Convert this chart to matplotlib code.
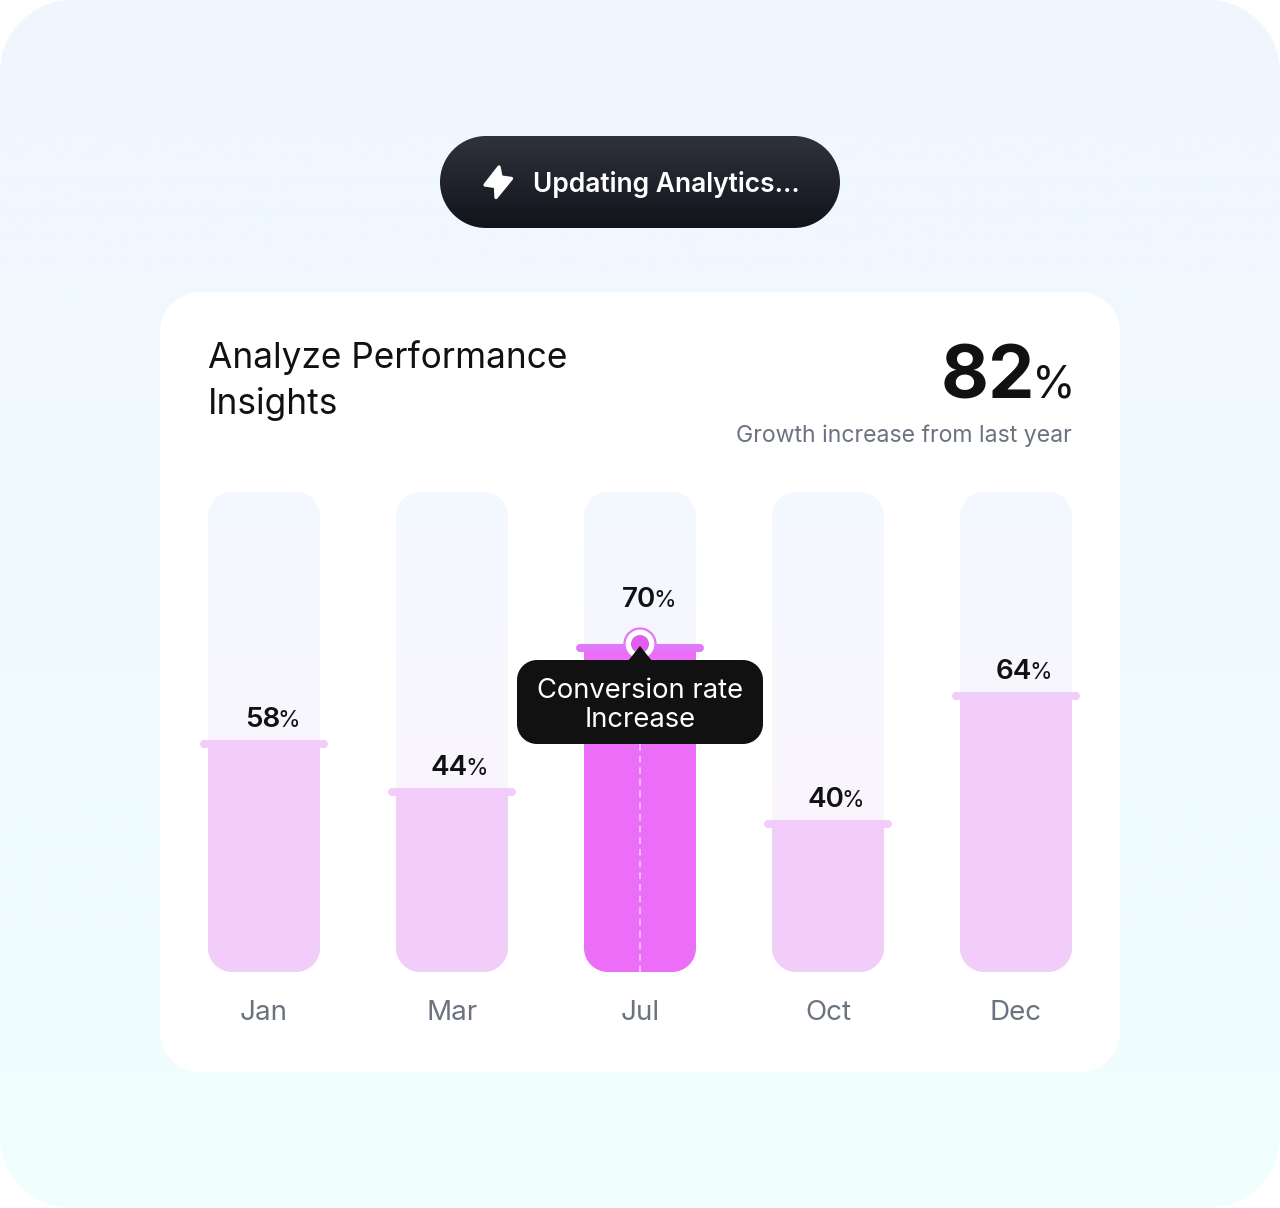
import numpy as np
import matplotlib
matplotlib.use('Agg')
import matplotlib.pyplot as plt
from matplotlib.patches import PathPatch, Polygon, Circle
from matplotlib.path import Path

plt.rcParams['font.family'] = ['Inter', 'DejaVu Sans']

# dados do grafico
months = ['Jan', 'Mar', 'Jul', 'Oct', 'Dec']
labels = [58, 44, 70, 40, 64]
# altura da barra em % do trilho (nao bate com o rotulo no original)
fill_pct = [47.5, 37.5, 67.5, 30.8, 57.5]
highlight = 'Jul'

W, H = 1280, 1208
fig = plt.figure(figsize=(W / 100, H / 100), dpi=100)
fig.patch.set_alpha(0)


def px_axes(zorder):
    a = fig.add_axes([0, 0, 1, 1], zorder=zorder)
    a.set_xlim(0, W)
    a.set_ylim(H, 0)
    a.axis('off')
    a.patch.set_alpha(0)
    return a


def rrect(x0, y0, x1, y1, r, **kw):
    # cantos circulares de verdade (o FancyBboxPatch fica quadrado demais)
    k = r * 0.4477
    verts = [(x0 + r, y0), (x1 - r, y0),
             (x1 - k, y0), (x1, y0 + k), (x1, y0 + r),
             (x1, y1 - r),
             (x1, y1 - k), (x1 - k, y1), (x1 - r, y1),
             (x0 + r, y1),
             (x0 + k, y1), (x0, y1 - k), (x0, y1 - r),
             (x0, y0 + r),
             (x0, y0 + k), (x0 + k, y0), (x0 + r, y0),
             (x0 + r, y0)]
    codes = [Path.MOVETO, Path.LINETO,
             Path.CURVE4, Path.CURVE4, Path.CURVE4,
             Path.LINETO,
             Path.CURVE4, Path.CURVE4, Path.CURVE4,
             Path.LINETO,
             Path.CURVE4, Path.CURVE4, Path.CURVE4,
             Path.LINETO,
             Path.CURVE4, Path.CURVE4, Path.CURVE4,
             Path.CLOSEPOLY]
    return PathPatch(Path(verts, codes), linewidth=kw.pop('linewidth', 0), **kw)


def hex2rgb(c):
    return np.array(matplotlib.colors.to_rgb(c))


def grad(a, x0, y0, x1, y1, r, top, bottom, zorder=1):
    # gradiente vertical recortado num retangulo arredondado
    patch = rrect(x0, y0, x1, y1, r, facecolor='none', transform=a.transData)
    a.add_patch(patch)
    t = np.linspace(0, 1, 256)[:, None, None]
    img = (1 - t) * hex2rgb(top) + t * hex2rgb(bottom)
    im = a.imshow(img, extent=(x0, x1, y1, y0), aspect='auto', zorder=zorder,
                  interpolation='bilinear')
    im.set_clip_path(patch)
    a.set_xlim(0, W)
    a.set_ylim(H, 0)
    return patch


bg = px_axes(0)
grad(bg, 0, 0, W, H, 72, '#F0F6FF', '#F0FFFE', zorder=1)
bg.add_patch(rrect(160, 292, 1120, 1072, 40, facecolor='white', zorder=2))

# botao
grad(bg, 440, 136, 840, 228, 46, '#30323C', '#11141B', zorder=3)
bg.add_patch(Polygon([(499, 167), (485, 185), (495.5, 186.5), (496, 197.5), (511.5, 178.5), (501, 177)],
                     closed=True, facecolor='white', edgecolor='white', linewidth=2.4,
                     joinstyle='round', zorder=4))
bg.text(533, 184, 'Updating Analytics...', color='white', fontsize=19, fontweight='semibold',
        ha='left', va='center', zorder=4)

# cabecalho
bg.text(208, 358, 'Analyze Performance', color='#111111', fontsize=25.4, ha='left', va='center', zorder=4)
bg.text(208, 404, 'Insights', color='#111111', fontsize=25.4, ha='left', va='center', zorder=4)
bg.text(1035, 379, '82', color='#111111', fontsize=53, fontweight='bold', ha='right', va='center', zorder=4)
bg.text(1032, 386, '%', color='#111111', fontsize=32, ha='left', va='center', zorder=4)
bg.text(1072, 436, 'Growth increase from last year', color='#6B7280', fontsize=16.6,
        ha='right', va='center', zorder=4)

# trilhos
tracks = []
bar_w = 112
step = 188
for i in range(len(months)):
    cx = 264 + step * i
    tracks.append(grad(bg, cx - bar_w / 2, 492, cx + bar_w / 2, 972, 24, '#F3F8FF', '#FEF4FC', zorder=3))

# barras
ax = fig.add_axes([208 / W, (H - 972) / H, (1072 - 208) / W, 480 / H], zorder=1)
ax.patch.set_alpha(0)
x = np.arange(len(months))
ax.set_xlim(-0.298, len(months) - 1 + 0.298)
ax.set_ylim(0, 100)
for s in ax.spines.values():
    s.set_visible(False)
ax.set_yticks([])
ax.set_xticks(x, months, color='#6B7280', fontsize=20)
ax.tick_params(axis='x', length=0, pad=20.5)

colors = ['#EC6DF7' if m == highlight else '#F3CDFA' for m in months]
cap_colors = ['#E277F7' if m == highlight else '#F2CCFB' for m in months]
bars = ax.bar(x, fill_pct, width=bar_w / step, color=colors, linewidth=0, zorder=2)
for b, t in zip(bars, tracks):
    b.set_clip_path(t)

# tampa e rotulo de cada barra
for xi, p, v, cc, m in zip(x, fill_pct, labels, cap_colors, months):
    ax.plot([xi - 60 / step, xi + 60 / step], [p, p], color=cc, lw=5.76, solid_capstyle='round',
            zorder=3, clip_on=False)
    dy = 48 if m == highlight else 24
    ax.annotate(str(v), (xi, p), xytext=(16 * .72, dy * .72), textcoords='offset points',
                ha='right', va='center', fontsize=20, fontweight='semibold', color='#111111', zorder=5)
    ax.annotate('%', (xi, p), xytext=(13.5 * .72, (dy - 1) * .72), textcoords='offset points',
                ha='left', va='center', fontsize=16.5, color='#111111', zorder=5)

# destaque do Jul
top = px_axes(2)
top.plot([640, 640], [744, 972], color='#F8C8FC', lw=1.2, ls=(0, (4, 3)), zorder=1)
top.add_patch(Circle((640, 644), 15.5, facecolor='white', edgecolor='#E277F7', linewidth=1.6, zorder=2))
top.add_patch(Circle((640, 644), 9, facecolor='#E05EEF', linewidth=0, zorder=3))
top.add_patch(rrect(517, 660, 763, 744, 20, facecolor='#111111', zorder=4))
top.add_patch(Polygon([(640, 646), (628, 661), (652, 661)], closed=True, facecolor='#111111',
                      linewidth=0, zorder=4))
top.text(640, 691, 'Conversion rate', color='white', fontsize=19.7, ha='center', va='center', zorder=5)
top.text(640, 720, 'Increase', color='white', fontsize=19.7, ha='center', va='center', zorder=5)

fig.savefig('out.png', dpi=100, transparent=False, facecolor='white')
